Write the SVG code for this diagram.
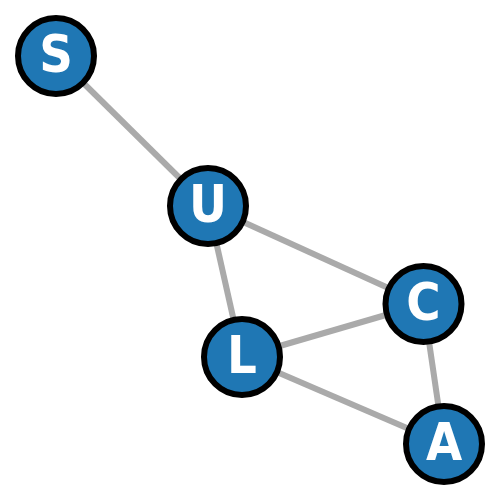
<svg xmlns="http://www.w3.org/2000/svg" width="500" height="500" viewBox="0 0 500 500">
<style>
.edge{stroke:#aaaaaa;stroke-width:6;fill:none}
.node circle{fill:#1f77b4;stroke:#000;stroke-width:6}
.node text{fill:#fff;font-family:"DejaVu Sans Condensed","DejaVu Sans",sans-serif;font-stretch:condensed;font-weight:bold;font-size:52px;text-anchor:middle;dominant-baseline:central}
</style>
<rect width="500" height="500" fill="#fff"/>
<g id="edges">
<line class="edge" x1="56" y1="56" x2="208" y2="206"/>
<line class="edge" x1="208" y1="206" x2="423.5" y2="304"/>
<line class="edge" x1="208" y1="206" x2="242" y2="357"/>
<line class="edge" x1="242" y1="357" x2="423.5" y2="304"/>
<line class="edge" x1="242" y1="357" x2="444" y2="444"/>
<line class="edge" x1="423.5" y1="304" x2="444" y2="444"/>
</g>
<g id="S" class="node"><circle cx="56" cy="56" r="38"/><text x="56" y="54">S</text></g>
<g id="U" class="node"><circle cx="208" cy="206" r="38"/><text x="208" y="204">U</text></g>
<g id="C" class="node"><circle cx="423.5" cy="304" r="38"/><text x="423.5" y="302">C</text></g>
<g id="L" class="node"><circle cx="242" cy="357" r="38"/><text x="242" y="355">L</text></g>
<g id="A" class="node"><circle cx="444" cy="444" r="38"/><text x="444" y="442">A</text></g>
</svg>
